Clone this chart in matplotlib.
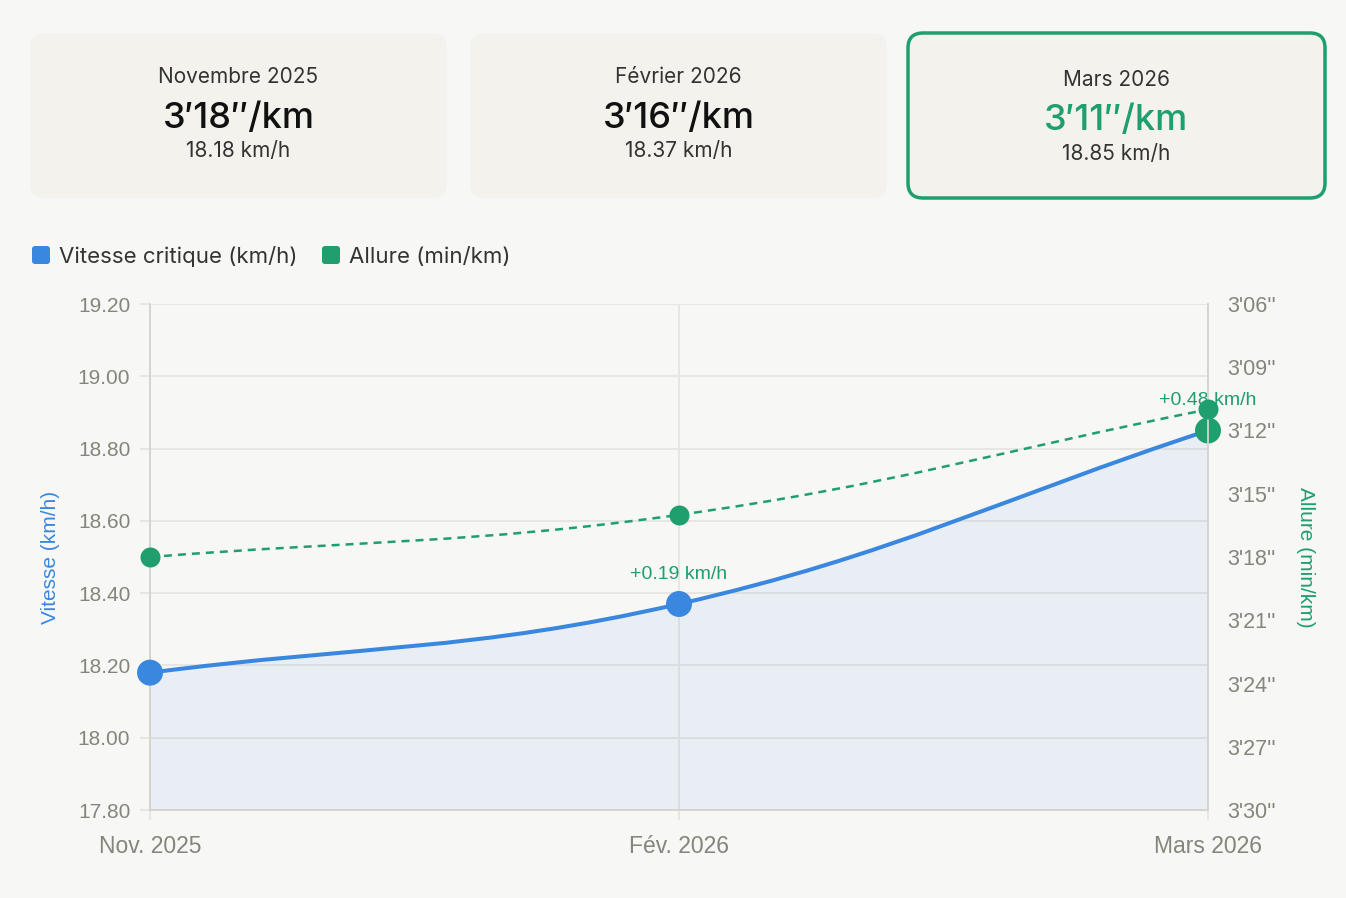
import numpy as np
import matplotlib
matplotlib.use("Agg")
import matplotlib.pyplot as plt
from matplotlib.patches import FancyBboxPatch
from matplotlib.path import Path
from matplotlib.patches import PathPatch

# Données
mois = ['Nov. 2025', 'Fév. 2026', 'Mars 2026']
titres_cartes = ['Novembre 2025', 'Février 2026', 'Mars 2026']
vitesse = [18.18, 18.37, 18.85]          # km/h
allure_sec = [198.0, 196.0, 191.0]       # secondes par km
deltas = ['+0.19 km/h', '+0.48 km/h']

vit_ticks = [17.80, 18.00, 18.20, 18.40, 18.60, 18.80, 19.00, 19.20]
allure_ticks = [186, 189, 192, 195, 198, 201, 204, 207, 210]

BG = '#f7f7f5'
CARD = '#f3f2ec'
BLUE = '#3a87e0'
GREEN = '#1f9e6e'
GRID = '#e5e5e1'
SPINE = '#d3d3cf'
TICK = '#85857c'
TXT = '#333333'

W, H = 1346, 898
fig = plt.figure(figsize=(W / 100, H / 100), dpi=100, facecolor=BG)

# calque de fond en pixels pour les cartes et la légende
bg = fig.add_axes([0, 0, 1, 1], zorder=0)
bg.set_xlim(0, W)
bg.set_ylim(H, 0)
bg.axis('off')


def fmt_allure(s):
    s = int(round(s))
    return f"{s // 60}\u2032{s % 60:02d}\u2033/km"


# Cartes du haut
cartes_x = [30, 470, 908]
for i, (cx, titre) in enumerate(zip(cartes_x, titres_cartes)):
    actif = i == len(titres_cartes) - 1
    box = FancyBboxPatch((cx, 33), 417, 165, boxstyle='round,pad=0,rounding_size=15',
                         facecolor=CARD, edgecolor=GREEN if actif else 'none',
                         linewidth=2.5 if actif else 0)
    bg.add_patch(box)
    mx = cx + 208.5
    dy = 3 if actif else 0
    bg.text(mx, 77 + dy, titre, ha='center', va='center', fontsize=15,
            family='Inter', color=TXT)
    bg.text(mx, 118 + dy, fmt_allure(allure_sec[i]), ha='center', va='center',
            fontsize=26, family='Inter', weight='medium',
            color=GREEN if actif else '#111111')
    bg.text(mx, 151 + dy, f"{vitesse[i]:.2f} km/h", ha='center', va='center',
            fontsize=15, family='Inter', color=TXT)

# Légende
for lx, col, lab in [(32, BLUE, 'Vitesse critique (km/h)'), (322, GREEN, 'Allure (min/km)')]:
    bg.add_patch(FancyBboxPatch((lx, 246), 18, 18, boxstyle='round,pad=0,rounding_size=3',
                                facecolor=col, edgecolor='none'))
    bg.text(lx + 27, 256.5, lab, ha='left', va='center', fontsize=16,
            family='Inter', color=TXT)

# Axes titres
bg.text(50, 557, 'Vitesse (km/h)', rotation=90, ha='center', va='center',
        fontsize=15, family='Liberation Sans', color=BLUE)
bg.text(1306, 557, 'Allure (min/km)', rotation=-90, ha='center', va='center',
        fontsize=15, family='Liberation Sans', color=GREEN)

# Graphique
ax = fig.add_axes([150 / W, 1 - 810 / H, 1058 / W, 506 / H], zorder=1)
ax.set_facecolor('none')
x = np.arange(len(mois))
ax.set_xlim(0, len(mois) - 1)
ax.set_ylim(17.8, 19.2)
ax.set_yticks(vit_ticks)
ax.set_yticklabels([f"{v:.2f}" for v in vit_ticks])
ax.set_xticks(x)
ax.set_xticklabels(mois)
ax.grid(True, color=GRID, linewidth=1.3)
ax.set_axisbelow(True)
for s in ['top', 'right']:
    ax.spines[s].set_visible(False)
for s in ['left', 'bottom']:
    ax.spines[s].set_color(SPINE)
    ax.spines[s].set_linewidth(1.3)
ax.tick_params(axis='y', length=7.2, width=1.3, color=GRID, pad=7,
               labelsize=15, labelcolor=TICK)
ax.tick_params(axis='x', length=7.2, width=1.3, color=GRID, pad=10.5,
               labelsize=16.5, labelcolor=TICK)
for lab in ax.get_xticklabels() + ax.get_yticklabels():
    lab.set_family('Liberation Sans')

ax2 = ax.twinx()
ax2.set_ylim(210, 186)
ax2.set_yticks(allure_ticks)
ax2.set_yticklabels([f"{t // 60}'{t % 60:02d}''" for t in allure_ticks])
ax2.tick_params(axis='y', length=0, pad=13.5, labelsize=15.5, labelcolor=TICK)
for lab in ax2.get_yticklabels():
    lab.set_family('Liberation Sans')
for s in ['top', 'left', 'bottom']:
    ax2.spines[s].set_visible(False)
ax2.spines['right'].set_color(SPINE)
ax2.spines['right'].set_linewidth(1.3)


def courbe(axe, xs, ys, tension=0.4):
    # courbe de Bézier façon Chart.js, calculée en pixels
    pts = axe.transData.transform(np.column_stack([xs, ys]))
    n = len(pts)
    cps = []
    for i in range(n):
        prev = pts[i - 1] if i > 0 else pts[i]
        nxt = pts[i + 1] if i < n - 1 else pts[i]
        d01 = np.hypot(*(pts[i] - prev))
        d12 = np.hypot(*(nxt - pts[i]))
        tot = d01 + d12
        s01 = d01 / tot if tot else 0
        s12 = d12 / tot if tot else 0
        cps.append((pts[i] - tension * s01 * (nxt - prev),
                    pts[i] + tension * s12 * (nxt - prev)))
    verts = [pts[0]]
    codes = [Path.MOVETO]
    for i in range(n - 1):
        verts += [cps[i][1], cps[i + 1][0], pts[i + 1]]
        codes += [Path.CURVE4] * 3
    inv = axe.transData.inverted()
    return inv.transform(np.array(verts)), codes


# Vitesse : courbe pleine + remplissage
v_verts, v_codes = courbe(ax, x, vitesse)
fill_verts = np.vstack([v_verts, [[x[-1], 17.8], [x[0], 17.8], v_verts[0]]])
fill_codes = v_codes + [Path.LINETO, Path.LINETO, Path.CLOSEPOLY]
ax.add_patch(PathPatch(Path(fill_verts, fill_codes), facecolor=BLUE, alpha=0.08,
                       edgecolor='none', zorder=2))
ax.add_patch(PathPatch(Path(v_verts, v_codes), facecolor='none', edgecolor=BLUE,
                       linewidth=2.9, zorder=3, capstyle='round'))
couleurs_pts = [BLUE] * (len(mois) - 1) + [GREEN]
ax.scatter(x, vitesse, s=18.7 ** 2, c=couleurs_pts, zorder=5, linewidths=0,
           clip_on=False)

# Deltas
for i, d in enumerate(deltas, start=1):
    ax.annotate(d, (x[i], vitesse[i]), xytext=(0, 21.5), textcoords='offset points',
                ha='center', va='center', fontsize=14, family='Liberation Sans',
                color=GREEN, zorder=4)

# Allure : courbe pointillée
a_verts, a_codes = courbe(ax2, x, allure_sec)
ax2.add_patch(PathPatch(Path(a_verts, a_codes), facecolor='none', edgecolor=GREEN,
                        linewidth=1.8, linestyle=(0, (3.2, 2.4)), zorder=3))
ax2.scatter(x, allure_sec, s=14.4 ** 2, c=GREEN, zorder=6, linewidths=0,
            clip_on=False)

fig.savefig('out.png', dpi=100, facecolor=BG)
